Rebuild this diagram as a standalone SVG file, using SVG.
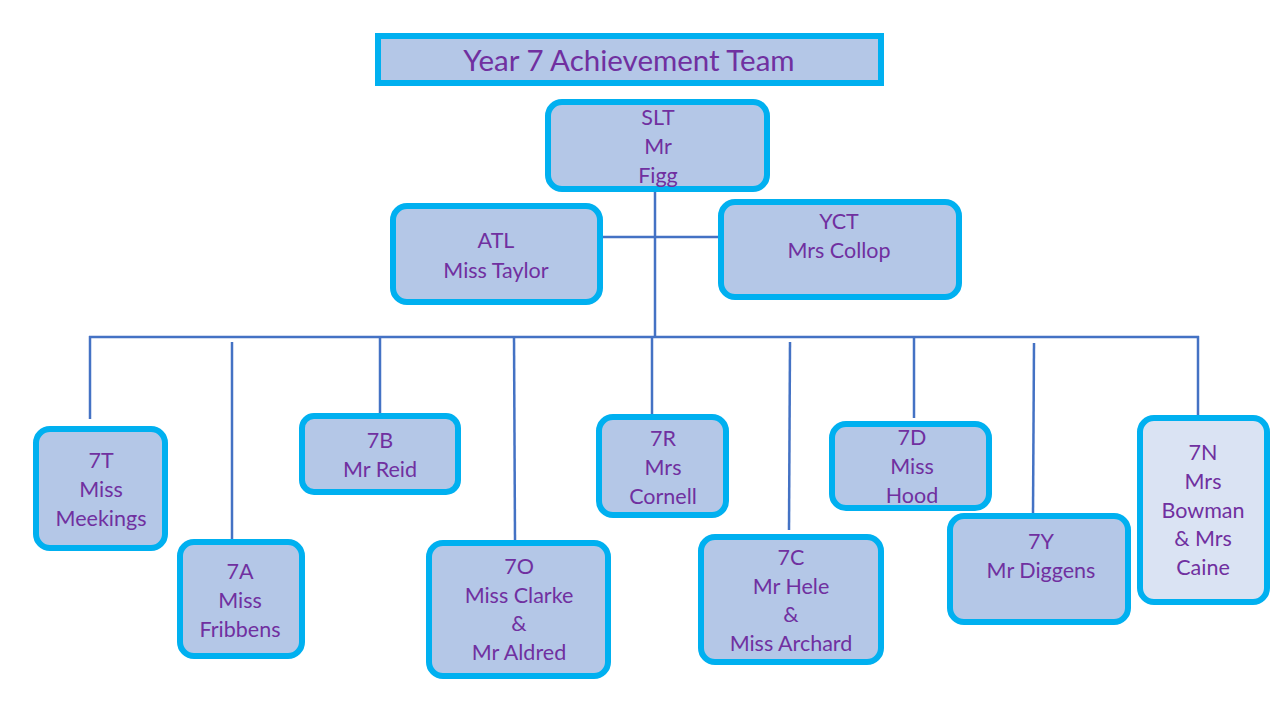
<svg xmlns="http://www.w3.org/2000/svg" width="1280" height="720" viewBox="0 0 1280 720">
<style>
.box{fill:#B4C7E7;stroke:#00B0F0;stroke-width:6}
.light{fill:#DAE3F3}
.t{font-family:Lato,"Open Sans","Liberation Sans",sans-serif;font-size:21.5px;fill:#7030A0;text-anchor:middle}
.title{font-size:29.5px}
.c{stroke:#4472C4;stroke-width:2.5;fill:none}
</style>
<rect width="1280" height="720" fill="#FFFFFF"/>
<g id="connectors">
<line class="c" x1="655" y1="192" x2="655" y2="337"/>
<line class="c" x1="603" y1="237" x2="718" y2="237"/>
<line class="c" x1="89" y1="337" x2="1199" y2="337"/>
<line class="c" x1="90" y1="336" x2="90" y2="419"/>
<line class="c" x1="232" y1="342" x2="232" y2="539"/>
<line class="c" x1="380" y1="336" x2="380" y2="413"/>
<line class="c" x1="514" y1="336" x2="515" y2="540"/>
<line class="c" x1="652" y1="336" x2="652" y2="414"/>
<line class="c" x1="790" y1="342" x2="789" y2="530"/>
<line class="c" x1="914" y1="336" x2="914" y2="418"/>
<line class="c" x1="1034" y1="343" x2="1033" y2="513"/>
<line class="c" x1="1198" y1="336" x2="1198" y2="415"/>
</g>
<g id="title">
<rect class="box" x="378" y="36" width="503" height="47"/>
<text class="t title" x="629" y="71">Year 7 Achievement Team</text>
</g>
<g id="slt">
<rect class="box" x="548" y="102" width="219" height="87" rx="14"/>
<text class="t" x="658" y="125">SLT</text>
<text class="t" x="658" y="154">Mr</text>
<text class="t" x="658" y="183">Figg</text>
</g>
<g id="atl">
<rect class="box" x="393" y="206" width="207" height="96" rx="14"/>
<text class="t" x="496" y="248">ATL</text>
<text class="t" x="496" y="278">Miss Taylor</text>
</g>
<g id="yct">
<rect class="box" x="721" y="202" width="238" height="95" rx="14"/>
<text class="t" x="839" y="229">YCT</text>
<text class="t" x="839" y="258">Mrs Collop</text>
</g>
<g id="n7T">
<rect class="box" x="36" y="429" width="129" height="119" rx="14"/>
<text class="t" x="101" y="468">7T</text>
<text class="t" x="101" y="497">Miss</text>
<text class="t" x="101" y="526">Meekings</text>
</g>
<g id="n7A">
<rect class="box" x="180" y="542" width="122" height="114" rx="14"/>
<text class="t" x="240" y="579">7A</text>
<text class="t" x="240" y="608">Miss</text>
<text class="t" x="240" y="637">Fribbens</text>
</g>
<g id="n7B">
<rect class="box" x="302" y="416" width="156" height="76" rx="12"/>
<text class="t" x="380" y="448">7B</text>
<text class="t" x="380" y="477">Mr Reid</text>
</g>
<g id="n7O">
<rect class="box" x="429" y="543" width="179" height="133" rx="14"/>
<text class="t" x="519" y="574">7O</text>
<text class="t" x="519" y="603">Miss Clarke</text>
<text class="t" x="519" y="631">&amp;</text>
<text class="t" x="519" y="660">Mr Aldred</text>
</g>
<g id="n7R">
<rect class="box" x="599" y="417" width="127" height="98" rx="14"/>
<text class="t" x="663" y="446">7R</text>
<text class="t" x="663" y="475">Mrs</text>
<text class="t" x="663" y="504">Cornell</text>
</g>
<g id="n7C">
<rect class="box" x="701" y="537" width="180" height="125" rx="14"/>
<text class="t" x="791" y="565">7C</text>
<text class="t" x="791" y="594">Mr Hele</text>
<text class="t" x="791" y="622">&amp;</text>
<text class="t" x="791" y="651">Miss Archard</text>
</g>
<g id="n7D">
<rect class="box" x="832" y="424" width="157" height="84" rx="14"/>
<text class="t" x="912" y="445">7D</text>
<text class="t" x="912" y="474">Miss</text>
<text class="t" x="912" y="503">Hood</text>
</g>
<g id="n7Y">
<rect class="box" x="950" y="516" width="178" height="106" rx="14"/>
<text class="t" x="1041" y="549">7Y</text>
<text class="t" x="1041" y="578">Mr Diggens</text>
</g>
<g id="n7N">
<rect class="box light" x="1140" y="418" width="127" height="184" rx="14"/>
<text class="t" x="1203" y="460">7N</text>
<text class="t" x="1203" y="489">Mrs</text>
<text class="t" x="1203" y="518">Bowman</text>
<text class="t" x="1203" y="546">&amp; Mrs</text>
<text class="t" x="1203" y="575">Caine</text>
</g>
</svg>
